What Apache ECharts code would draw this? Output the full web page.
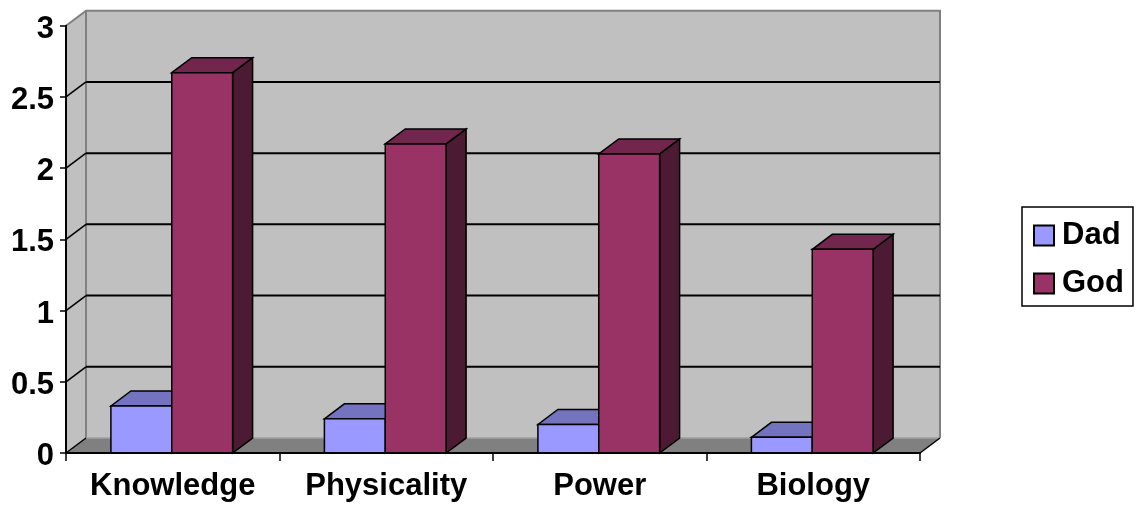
<!DOCTYPE html>
<html>
<head>
<meta charset="utf-8">
<title>Dad vs God</title>
<script src="https://cdn.jsdelivr.net/npm/echarts@6/dist/echarts.min.js"></script>
<style>
  html, body { margin: 0; padding: 0; background: #fff; }
  #chart { width: 1136px; height: 506px; }
</style>
</head>
<body>
<div id="chart"></div>
<script>
// Chart data
const categories = ['Knowledge', 'Physicality', 'Power', 'Biology'];
const dadValues = [0.33, 0.24, 0.2, 0.11];
const godValues = [2.67, 2.17, 2.1, 1.43];
const yTicks = [0, 0.5, 1, 1.5, 2, 2.5, 3];

// 3D look: depth offset of walls and columns
const DX = 20;
const DY = -15;
const BAR_RATIO = 0.285;
const FONT = "'Liberation Sans', Arial, Helvetica, sans-serif";
const FONT_SIZE = 31;

const yMin = yTicks[0];
const yMax = yTicks[yTicks.length - 1];

// Back wall, left wall, floor and gridlines drawn in perspective
function renderWalls(params, api) {
  const cs = params.coordSys;
  const x0 = cs.x, x1 = cs.x + cs.width;
  const yTop = api.coord([0, yMax])[1];
  const yBot = api.coord([0, yMin])[1];
  const children = [
    { type: 'rect', shape: { x: x0 + DX, y: yTop + DY, width: x1 - x0, height: yBot - yTop },
      style: { fill: '#C0C0C0' } },
    { type: 'polygon', shape: { points: [[x0, yTop], [x0 + DX, yTop + DY], [x0 + DX, yBot + DY], [x0, yBot]] },
      style: { fill: '#C0C0C0' } },
    { type: 'polygon', shape: { points: [[x0, yBot], [x1, yBot], [x1 + DX, yBot + DY], [x0 + DX, yBot + DY]] },
      style: { fill: '#808080' } },
    { type: 'polyline', shape: { points: [[x0, yTop], [x0 + DX, yTop + DY], [x1 + DX, yTop + DY], [x1 + DX, yBot + DY]] },
      style: { stroke: '#808080', lineWidth: 2, fill: null } },
    { type: 'line', shape: { x1: x0 + DX, y1: yTop + DY, x2: x0 + DX, y2: yBot + DY },
      style: { stroke: '#808080', lineWidth: 2 } },
    { type: 'line', shape: { x1: x0 + DX, y1: yBot + DY, x2: x1 + DX, y2: yBot + DY },
      style: { stroke: '#A0A0A0', lineWidth: 1.5 } },
    { type: 'line', shape: { x1: x0, y1: yBot, x2: x0 + DX, y2: yBot + DY },
      style: { stroke: '#000', lineWidth: 1.5 } },
    { type: 'line', shape: { x1: x1, y1: yBot, x2: x1 + DX, y2: yBot + DY },
      style: { stroke: '#000', lineWidth: 1.5 } }
  ];
  yTicks.forEach(function (v) {
    if (v === yMin || v === yMax) return;
    const y = api.coord([0, v])[1];
    children.push(
      { type: 'line', shape: { x1: x0 + DX, y1: y + DY, x2: x1 + DX, y2: y + DY },
        style: { stroke: '#000', lineWidth: 2 } },
      { type: 'line', shape: { x1: x0, y1: y, x2: x0 + DX, y2: y + DY },
        style: { stroke: '#000', lineWidth: 1.5 } }
    );
  });
  return { type: 'group', children: children };
}

// A 3D column: front face, top face and right side face
function makeColumnRenderer(side, colors) {
  return function (params, api) {
    const ci = api.value(0);
    const v = api.value(1);
    const base = api.coord([ci, 0]);
    const top = api.coord([ci, v]);
    const band = api.size([1, 0])[0];
    const w = band * BAR_RATIO;
    const xl = side === 'left' ? base[0] - w - 1 : base[0] - 1;
    const xr = xl + w;
    const yt = top[1], yb = base[1];
    const edge = { stroke: '#000', lineWidth: 1.5, lineJoin: 'miter' };
    return {
      type: 'group',
      children: [
        { type: 'polygon', shape: { points: [[xr, yt], [xr + DX, yt + DY], [xr + DX, yb + DY], [xr, yb]] },
          style: Object.assign({ fill: colors.side }, edge) },
        { type: 'polygon', shape: { points: [[xl, yt], [xl + DX, yt + DY], [xr + DX, yt + DY], [xr, yt]] },
          style: Object.assign({ fill: colors.top }, edge) },
        { type: 'polygon', shape: { points: [[xl, yt], [xr, yt], [xr, yb], [xl, yb]] },
          style: Object.assign({ fill: colors.front }, edge) }
      ]
    };
  };
}

const dadColors = { front: '#9999FF', top: '#7373BF', side: '#4D4D80' };
const godColors = { front: '#993366', top: '#73264D', side: '#4D1A33' };

const labelStyle = { fontFamily: FONT, fontSize: FONT_SIZE, fontWeight: 'bold', color: '#000' };

const chart = echarts.init(document.getElementById('chart'), null, { renderer: 'canvas' });
chart.setOption({
  animation: false,
  backgroundColor: '#fff',
  textStyle: { fontFamily: FONT },
  grid: { left: 66, right: 216, top: 25.7, bottom: 53, containLabel: false },
  legend: {
    data: ['Dad', 'God'],
    orient: 'vertical',
    left: 1022,
    top: 207,
    padding: [13, 9, 7, 11],
    itemWidth: 20,
    itemHeight: 20,
    itemGap: 17,
    icon: 'rect',
    backgroundColor: '#fff',
    borderColor: '#000',
    borderWidth: 1.5,
    borderRadius: 0,
    textStyle: Object.assign({ lineHeight: 31, padding: [0, 0, 0, 3] }, labelStyle)
  },
  xAxis: {
    type: 'category',
    data: categories,
    z: 10,
    axisLine: { lineStyle: { color: '#000', width: 2 } },
    axisTick: { show: true, interval: 0, length: 8, lineStyle: { color: '#000', width: 1.5 } },
    axisLabel: Object.assign({ interval: 0, margin: 18, hideOverlap: false }, labelStyle),
    splitLine: { show: false }
  },
  yAxis: {
    type: 'value',
    min: yMin,
    max: yMax,
    interval: 0.5,
    z: 10,
    axisLine: { show: true, lineStyle: { color: '#000', width: 2 } },
    axisTick: { show: true, length: 6, lineStyle: { color: '#000', width: 1.5 } },
    axisLabel: {
      margin: 12,
      formatter: '{v|{value}}',
      rich: { v: Object.assign({ padding: [7, 0, 0, 0] }, labelStyle) }
    },
    splitLine: { show: false }
  },
  series: [
    {
      type: 'custom',
      name: 'walls',
      silent: true,
      z: 1,
      renderItem: renderWalls,
      data: [[0, 0]]
    },
    {
      type: 'custom',
      name: 'Dad',
      z: 2,
      itemStyle: { color: dadColors.front, borderColor: '#000', borderWidth: 1 },
      renderItem: makeColumnRenderer('left', dadColors),
      data: dadValues.map(function (v, i) { return [i, v]; })
    },
    {
      type: 'custom',
      name: 'God',
      z: 3,
      itemStyle: { color: godColors.front, borderColor: '#000', borderWidth: 1 },
      renderItem: makeColumnRenderer('right', godColors),
      data: godValues.map(function (v, i) { return [i, v]; })
    }
  ]
});
</script>
</body>
</html>
